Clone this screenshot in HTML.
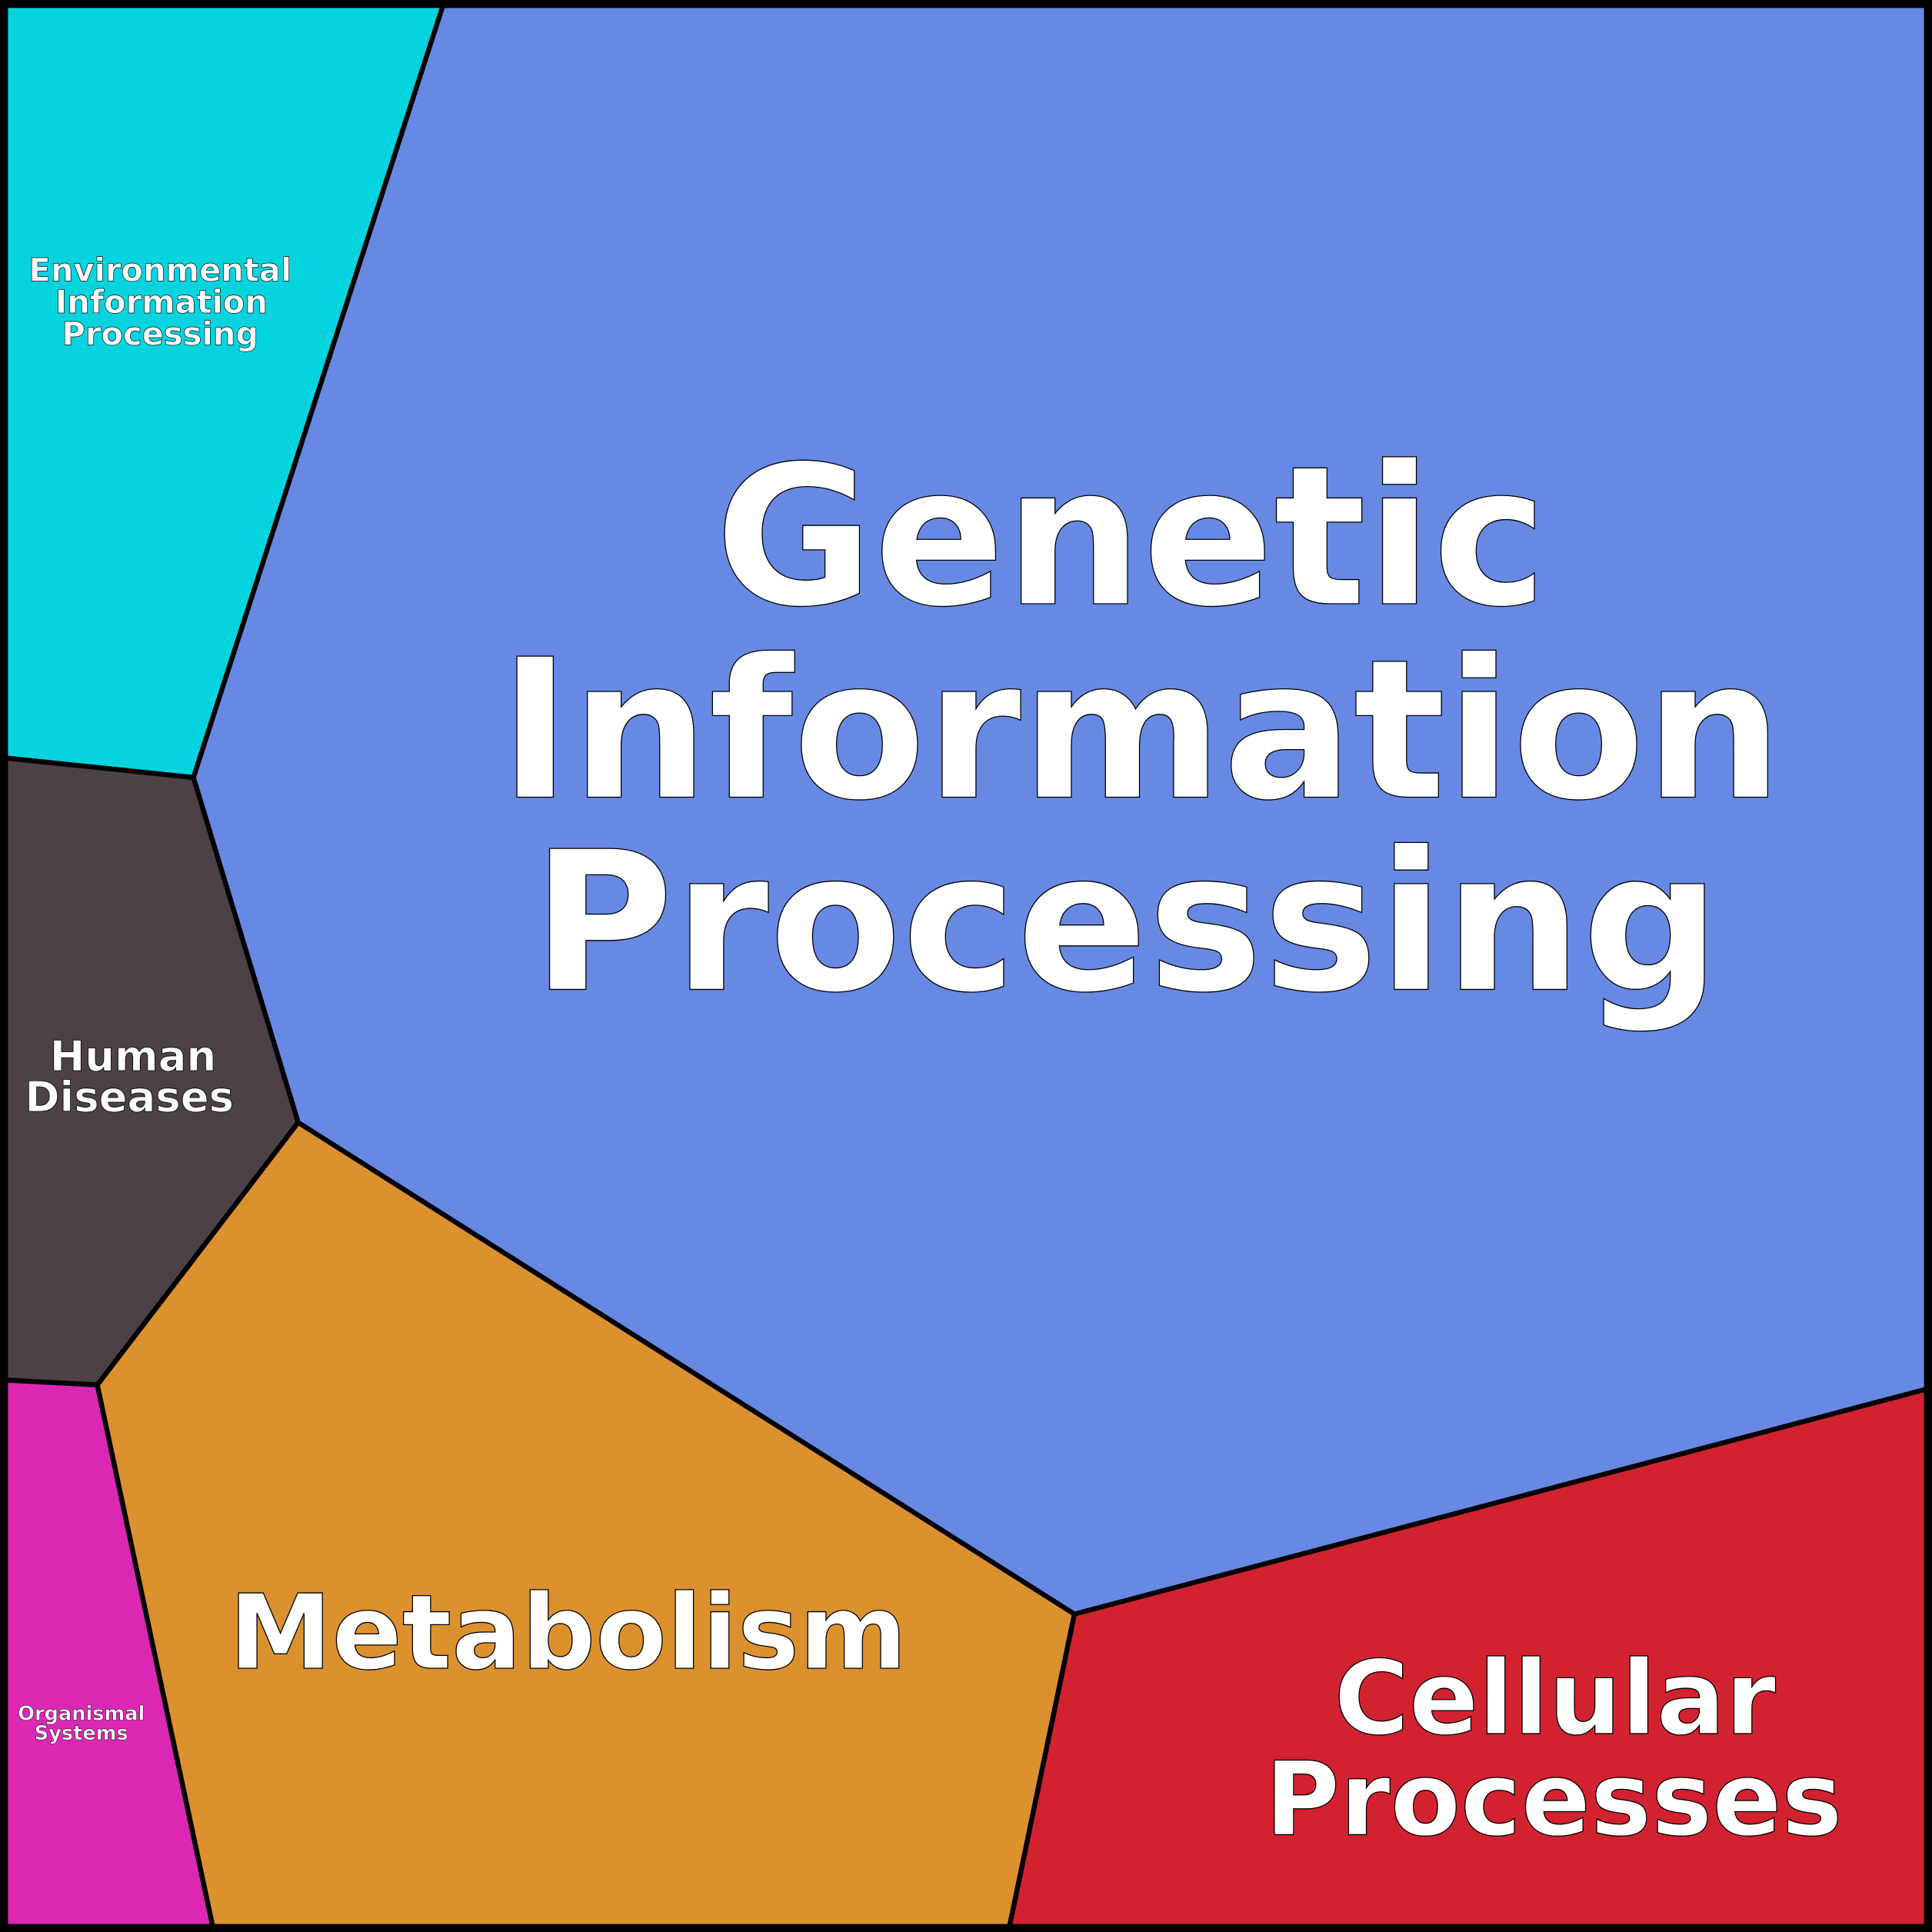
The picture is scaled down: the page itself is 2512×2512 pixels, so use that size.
<!DOCTYPE html>
<html><head><style>html,body{margin:0;padding:0;background:#fff}svg{display:block}</style></head>
<body>
<svg width="2512" height="2512" viewBox="0 0 1568 1568" xmlns="http://www.w3.org/2000/svg">
<g stroke="#000" stroke-width="4" stroke-linejoin="round">
<rect x="0" y="0" width="1568" height="1568" fill="#6789E3"/>
<polygon points="3,3 360,3 157,631 3,615" fill="#05D4DF"/>
<polygon points="3,615 157,631 242,911 79,1124 3,1120" fill="#4B4147"/>
<polygon points="3,1120 79,1124 173,1565 3,1565" fill="#DA28B3"/>
<polygon points="79,1124 242,911 872,1310 819,1565 173,1565" fill="#DC912F"/>
<polygon points="872,1310 1565,1127 1565,1565 819,1565" fill="#D22230"/>
</g>
<rect x="3" y="3" width="1562" height="1562" fill="none" stroke="#000" stroke-width="7"/>
<g font-family="'DejaVu Sans', 'Liberation Sans', sans-serif" font-weight="bold" fill="#fff" stroke="#000" stroke-width="0.8" text-anchor="middle">
<g font-size="157">
<text x="918" y="490">Genetic</text>
<text x="926" y="647">Information</text>
<text x="914" y="803">Processing</text>
</g>
<text x="461" y="1354" font-size="84">Metabolism</text>
<g font-size="83">
<text x="1262" y="1407">Cellular</text>
<text x="1261" y="1489">Processes</text>
</g>
<g font-size="34" stroke-width="0.5">
<text x="108" y="869">Human</text>
<text x="105" y="902">Diseases</text>
</g>
<g font-size="26" stroke-width="0.4">
<text x="130" y="228">Environmental</text>
<text x="131" y="254">Information</text>
<text x="130" y="280">Processing</text>
</g>
<g font-size="16" stroke-width="0.3">
<text x="66" y="1396">Organismal</text>
<text x="66" y="1412">Systems</text>
</g>
</g>
</svg>
</body></html>
